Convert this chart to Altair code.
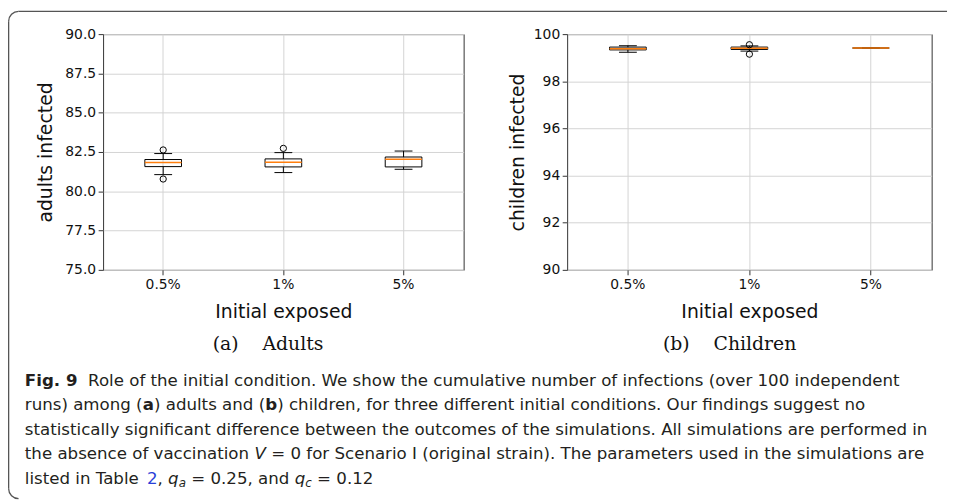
import math
import altair as alt
import pandas as pd

# ---------------- data ----------------
categories = ["0.5%", "1%", "5%"]

adult_whisker_low = [81.06, 81.19, 81.40]
adult_q1 = [81.57, 81.55, 81.55]
adult_median = [81.83, 81.85, 82.04]
adult_q3 = [82.02, 82.06, 82.18]
adult_whisker_high = [82.40, 82.46, 82.56]
adult_outlier_group = ["0.5%", "0.5%", "1%"]
adult_outlier_value = [82.63, 80.78, 82.73]
adult_y_ticks = [75.0, 77.5, 80.0, 82.5, 85.0, 87.5, 90.0]

child_whisker_low = [99.23, 99.28, 99.41]
child_q1 = [99.33, 99.35, 99.41]
child_median = [99.38, 99.40, 99.41]
child_q3 = [99.45, 99.45, 99.41]
child_whisker_high = [99.51, 99.50, 99.41]
child_outlier_group = ["1%", "1%"]
child_outlier_value = [99.55, 99.15]
child_y_ticks = [90, 92, 94, 96, 98, 100]

x_title = "Initial exposed"
panel_titles = ["(a)\u00a0\u00a0\u00a0\u00a0Adults", "(b)\u00a0\u00a0\u00a0\u00a0Children"]
y_titles = ["adults infected", "children infected"]

# caption pieces: (text, style) ; style: n normal, b bold, i italic, s subscript italic, l link
caption_lines = [
    [("Fig. 9", "b"), ("  Role of the initial condition. We show the cumulative number of infections (over 100 independent", "n")],
    [("runs) among (", "n"), ("a", "b"), (") adults and (", "n"), ("b", "b"),
     (") children, for three different initial conditions. Our findings suggest no", "n")],
    [("statistically significant difference between the outcomes of the simulations. All simulations are performed in", "n")],
    [("the absence of vaccination ", "n"), ("V", "i"),
     (" = 0 for Scenario I (original strain). The parameters used in the simulations are", "n")],
    [("listed in Table ", "n"), ("2", "l"), (", ", "n"), ("q", "i"), ("a", "s"), (" = 0.25, and ", "n"),
     ("q", "i"), ("c", "s"), (" = 0.12", "n")],
]

# ---------------- styling ----------------
BOXW = 37
CAPW = 18
MED_COLOR = "#ff7f0e"
INK = "#111111"
FRAME = "#555555"
CAP_FONT = "DejaVu Sans"
CAP_SIZE = 16.8
SUB_SIZE = 12.0
CAP_INK = "#231f20"

# DejaVu Sans advance widths (em) used to place the caption pieces one after another
W_REG = {" ": 0.318, "(": 0.390, ")": 0.390, ",": 0.318, ".": 0.318, "=": 0.838,
         "a": 0.613, "b": 0.635, "c": 0.550, "d": 0.635, "e": 0.615, "f": 0.352, "g": 0.635,
         "h": 0.634, "i": 0.278, "l": 0.278, "m": 0.974, "n": 0.634, "o": 0.612, "q": 0.635,
         "r": 0.411, "s": 0.521, "t": 0.392, "u": 0.634, "v": 0.592, "T": 0.611, "V": 0.684}
W_BOLD = {"F": 0.683, "i": 0.343, "g": 0.716, ".": 0.380, " ": 0.348, "9": 0.696,
          "a": 0.675, "b": 0.716}


def text_width(txt, style):
    if style == "b":
        return sum(W_BOLD.get(ch, 0.7) for ch in txt) * CAP_SIZE
    size = SUB_SIZE if style == "s" else CAP_SIZE
    return sum(W_REG.get(ch, 0.636) for ch in txt) * size


def box_panel(lo, q1, med, q3, hi, out_g, out_v, domain, ticks, fmt, ytitle,
              sub, w, h, ytp, sub_dx):
    stats = pd.DataFrame({"group": categories, "lo": lo, "q1": q1,
                          "med": med, "q3": q3, "hi": hi})
    outl = pd.DataFrame({"group": out_g, "value": out_v})

    xenc = alt.X("group:N", sort=categories, title=x_title,
                 scale=alt.Scale(domain=categories, paddingInner=0, paddingOuter=0),
                 axis=alt.Axis(labelAngle=0, bandPosition=0.5, titlePadding=11))

    def yenc(field):
        return alt.Y(f"{field}:Q", title=ytitle,
                     scale=alt.Scale(domain=domain, nice=False, zero=False),
                     axis=alt.Axis(values=ticks, format=fmt, titlePadding=ytp))

    base = alt.Chart(stats)
    box = base.mark_bar(size=BOXW, fill="white", fillOpacity=0, stroke="black",
                        strokeWidth=1).encode(x=xenc, y=yenc("q1"), y2="q3")
    wlo = base.mark_rule(color="black", strokeWidth=1).encode(x=xenc, y=yenc("lo"), y2="q1")
    whi = base.mark_rule(color="black", strokeWidth=1).encode(x=xenc, y=yenc("q3"), y2="hi")
    cap_lo = base.mark_tick(size=CAPW, thickness=1, color="black", opacity=1,
                            orient="horizontal").encode(x=xenc, y=yenc("lo"))
    cap_hi = base.mark_tick(size=CAPW, thickness=1, color="black", opacity=1,
                            orient="horizontal").encode(x=xenc, y=yenc("hi"))
    median = base.mark_tick(size=BOXW, thickness=1.5, color=MED_COLOR, opacity=1,
                            orient="horizontal").encode(x=xenc, y=yenc("med"))
    pts = alt.Chart(outl).mark_point(shape="circle", size=40, filled=False, color="black",
                                     strokeWidth=1, opacity=1).encode(x=xenc, y=yenc("value"))

    return alt.layer(box, wlo, whi, cap_lo, cap_hi, median, pts).properties(
        width=w, height=h,
        view=alt.ViewBackground(stroke="#333333", strokeWidth=1),
        title=alt.TitleParams(text=sub, orient="bottom", anchor="middle", frame="group",
                              font="DejaVu Serif", fontSize=19, fontWeight="normal",
                              color=INK, dx=sub_dx, offset=14),
    )


left = box_panel(adult_whisker_low, adult_q1, adult_median, adult_q3, adult_whisker_high,
                 adult_outlier_group, adult_outlier_value, [75, 90], adult_y_ticks, ".1f",
                 y_titles[0], panel_titles[0], 364, 238, 9.5, -15.5)
right = box_panel(child_whisker_low, child_q1, child_median, child_q3, child_whisker_high,
                  child_outlier_group, child_outlier_value, [90, 100], child_y_ticks, "d",
                  y_titles[1], panel_titles[1], 368, 238, 5.5, -20)

# ---------------- caption (page coordinates -> caption view coordinates) ----------------
OX, OY = 104.0, 310.0
ROWGAP = 40
dummy = pd.DataFrame({"k": [0]})


def seg(txt, xp, yp, style):
    kw = dict(font=CAP_FONT, fontSize=CAP_SIZE, fontWeight="normal", fontStyle="normal", color=CAP_INK)
    if style == "b":
        kw["fontWeight"] = "bold"
    elif style == "i":
        kw["fontStyle"] = "italic"
    elif style == "s":
        kw["fontStyle"] = "italic"
        kw["fontSize"] = SUB_SIZE
        yp += 3.5
    elif style == "l":
        kw["color"] = "#2a3fd8"
    # leading spaces are dropped when drawn, so turn them into an x shift
    lead = len(txt) - len(txt.lstrip(" "))
    xp += text_width(" " * lead, style)
    shown = txt.strip(" ")
    return alt.Chart(dummy).mark_text(text=shown, align="left", baseline="alphabetic", **kw).encode(
        x=alt.value(xp - OX), y=alt.value(yp - OY))


BASELINES = [387.0, 411.75, 436.5, 461.25, 486.0]
X0 = 25
segs = []
for pieces, yb in zip(caption_lines, BASELINES):
    xc = X0
    for txt, style in pieces:
        segs.append(seg(txt, xc, yb, style))
        xc += text_width(txt, style)

FR = 10.0
FX = 8.65
FY = 9.0
FBOT = 491.0
top_rule = alt.Chart(dummy).mark_rule(color=FRAME, strokeWidth=1.3).encode(
    x=alt.value(FX + FR - OX), x2=alt.value(956 - OX), y=alt.value(FY - OY))
left_rule = alt.Chart(dummy).mark_rule(color=FRAME, strokeWidth=1.3).encode(
    x=alt.value(FX - OX), y=alt.value(FY + FR - OY), y2=alt.value(FBOT - OY))
arc_tl = alt.Chart(dummy).mark_arc(radius=FR + 0.65, radius2=FR - 0.65,
                                   theta=1.5 * math.pi, theta2=2 * math.pi, color=FRAME).encode(
    x=alt.value(FX + FR - OX), y=alt.value(FY + FR - OY))
arc_bl = alt.Chart(dummy).mark_arc(radius=FR + 0.65, radius2=FR - 0.65,
                                   theta=math.pi, theta2=1.5 * math.pi, color=FRAME).encode(
    x=alt.value(FX + FR - OX), y=alt.value(FBOT - OY))

caption = alt.layer(*segs, top_rule, left_rule, arc_tl, arc_bl).properties(width=364, height=100)

chart = (
    alt.concat(left, right, caption, columns=2, spacing={"row": ROWGAP, "column": 104.5},
               bounds="flush")
    .properties(padding=0)
    .configure_view(strokeWidth=0)
    .configure_axis(
        labelFont="DejaVu Sans", labelFontSize=14, labelColor=INK,
        titleFont="DejaVu Sans", titleFontSize=19, titleFontWeight="normal", titleColor=INK,
        tickColor="#333333", tickSize=5, tickWidth=1, domain=False,
        grid=True, gridColor="#d3d3d3", gridWidth=1, labelPadding=2.5,
    )
    .configure_axisX(labelPadding=3)
)

chart.save("out.html", embed_options={"renderer": "svg", "actions": False})
